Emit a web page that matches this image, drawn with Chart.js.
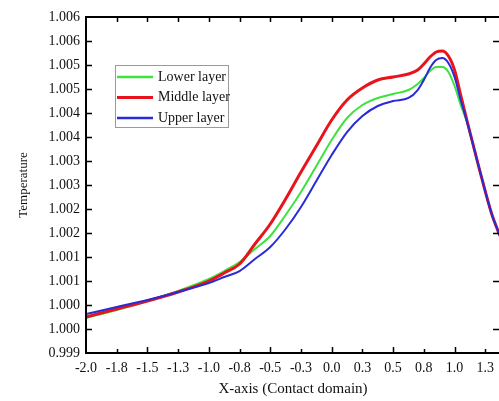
<!DOCTYPE html>
<html>
<head>
<meta charset="utf-8">
<script src="https://cdn.jsdelivr.net/npm/chart.js@4"></script>
<style>
  html, body { margin: 0; padding: 0; background: #fff; overflow: hidden; }
  #wrap { position: absolute; left: 0; top: 0; width: 520px; height: 401px; }
</style>
</head>
<body>
<div id="wrap"><canvas id="elGrafico" width="520" height="401"></canvas></div>
<script>
// posiciones en el eje X
const xValues = [-2.0, -1.75, -1.5, -1.25, -1.0, -0.875, -0.75, -0.625, -0.5, -0.375, -0.25, -0.125,
  0.0, 0.125, 0.25, 0.375, 0.5, 0.625, 0.7, 0.75, 0.8, 0.85, 0.9, 0.95, 1.0, 1.05, 1.1, 1.2, 1.3, 1.37]

const lowerLayer = [0.999729, 0.999896, 1.000083, 1.000292, 1.000542, 1.000708, 1.000896, 1.001167, 1.001438,
  1.001875, 1.002354, 1.002896, 1.003438, 1.003896, 1.004167, 1.004313, 1.004396, 1.004479, 1.004604,
  1.004729, 1.004875, 1.004958, 1.004958, 1.004854, 1.004563, 1.004167, 1.003813, 1.002854, 1.001917, 1.001438]

const middleLayer = [0.999750, 0.999917, 1.000083, 1.000271, 1.000500, 1.000667, 1.000854, 1.001271, 1.001688,
  1.002208, 1.002771, 1.003313, 1.003854, 1.004271, 1.004521, 1.004688, 1.004750, 1.004813, 1.004896,
  1.005021, 1.005167, 1.005271, 1.005292, 1.005188, 1.004896, 1.004375, 1.003854, 1.002854, 1.001917, 1.001438]

const upperLayer = [0.999813, 0.999958, 1.000104, 1.000271, 1.000458, 1.000583, 1.000708, 1.000958, 1.001208,
  1.001583, 1.002042, 1.002583, 1.003125, 1.003604, 1.003938, 1.004146, 1.004250, 1.004313, 1.004479,
  1.004688, 1.004938, 1.005104, 1.005146, 1.005042, 1.004750, 1.004271, 1.003833, 1.002854, 1.001917, 1.001438]

const seriesNames = ['Lower layer', 'Middle layer', 'Upper layer']
const seriesColors = ['#3ee23e', '#e8141b', '#2a2ad8']

// ticks del eje X (etiquetas con un decimal)
const xTicks = [-2.0, -1.75, -1.5, -1.25, -1.0, -0.75, -0.5, -0.25, 0.0, 0.25, 0.5, 0.75, 1.0, 1.25]
const xMin = -2.0
const xMax = 1.37
// eje Y cada 0.0005, etiquetas con tres decimales
const yMin = 0.999
const yMax = 1.006
const yStep = 0.0005

const serif = 'Liberation Serif, Times New Roman, serif'

const toPoints = (ys) => ys.map((y, i) => ({ x: xValues[i], y: y }))

// marco y ticks hacia adentro
const frameTicks = {
  id: 'frameTicks',
  afterDatasetsDraw(chart) {
    const { ctx, chartArea: a, scales } = chart
    const xs = scales.x
    const ys = scales.y
    ctx.save()
    ctx.strokeStyle = '#000'
    ctx.lineWidth = 2
    ctx.strokeRect(a.left, a.top, a.right - a.left, a.bottom - a.top)

    ctx.lineWidth = 1.5
    ctx.beginPath()
    xs.ticks.forEach((t) => {
      const px = Math.round(xs.getPixelForValue(t.value)) + 0.5
      if (px <= a.left + 2) return
      const major = Math.abs(Math.round(t.value * 2) - t.value * 2) < 1e-6
      const len = major ? 6 : 4
      ctx.moveTo(px, a.bottom)
      ctx.lineTo(px, a.bottom - len)
      ctx.moveTo(px, a.top)
      ctx.lineTo(px, a.top + 5)
    })
    ys.ticks.forEach((t, i) => {
      const py = Math.round(ys.getPixelForValue(t.value)) + 0.5
      if (py >= a.bottom - 2 || py <= a.top + 2) return
      ctx.moveTo(a.left, py)
      ctx.lineTo(a.left + 6, py)
      if (i % 2 === 1) {
        ctx.moveTo(a.right, py)
        ctx.lineTo(a.right - 7, py)
      }
    })
    ctx.stroke()
    ctx.restore()
  }
}

// leyenda dentro del area del grafico
const boxLegend = {
  id: 'boxLegend',
  afterDraw(chart) {
    const { ctx } = chart
    const bx = 115, by = 65, bw = 113, bh = 62
    ctx.save()
    ctx.fillStyle = '#fff'
    ctx.fillRect(bx, by, bw, bh)
    ctx.strokeStyle = '#9a9a9a'
    ctx.lineWidth = 1
    ctx.strokeRect(bx + 0.5, by + 0.5, bw, bh)
    ctx.font = '14px ' + serif
    ctx.textBaseline = 'middle'
    seriesNames.forEach((name, i) => {
      const ly = by + 12 + i * 20.5
      ctx.strokeStyle = seriesColors[i]
      ctx.lineWidth = i === 1 ? 3 : 2.5
      ctx.beginPath()
      ctx.moveTo(bx + 2, ly)
      ctx.lineTo(bx + 38, ly)
      ctx.stroke()
      ctx.fillStyle = '#111'
      ctx.fillText(name, bx + 43, ly)
    })
    ctx.restore()
  }
}

const datasets = [lowerLayer, middleLayer, upperLayer].map((ys, i) => ({
  label: seriesNames[i],
  data: toPoints(ys),
  borderColor: seriesColors[i],
  borderWidth: i === 1 ? 3 : 2,
  pointRadius: 0,
  cubicInterpolationMode: 'monotone',
  fill: false,
  order: [2, 1, 0][i]
}))

new Chart('elGrafico', {
  type: 'line',
  data: { datasets: datasets },
  options: {
    responsive: false,
    animation: false,
    layout: { padding: { left: 16, right: 20, top: 17, bottom: 0 } },
    plugins: {
      legend: { display: false },
      tooltip: { enabled: false }
    },
    scales: {
      x: {
        type: 'linear',
        min: xMin,
        max: xMax,
        grid: { display: false, drawTicks: false, tickLength: 0 },
        border: { display: false },
        ticks: {
          padding: 7,
          color: '#111',
          font: { family: serif, size: 14 },
          maxRotation: 0,
          autoSkip: false,
          callback: (v) => v.toFixed(1)
        },
        afterBuildTicks: (s) => {
          s.ticks = xTicks.map((v) => ({ value: v }))
        },
        afterFit: (s) => { s.height = 48 },
        title: {
          display: true,
          text: 'X-axis (Contact domain)',
          color: '#111',
          font: { family: serif, size: 15 },
          padding: { top: 0, bottom: 3 }
        }
      },
      y: {
        min: yMin,
        max: yMax,
        grid: { display: false, drawTicks: false, tickLength: 0 },
        border: { display: false },
        ticks: {
          stepSize: yStep,
          padding: 6,
          color: '#111',
          font: { family: serif, size: 14 },
          autoSkip: false,
          callback: (v) => (Math.round(v * 1000 + 1e-6) / 1000).toFixed(3)
        },
        afterFit: (s) => { s.width = 70 },
        title: {
          display: true,
          text: 'Temperature',
          color: '#111',
          font: { family: serif, size: 13 },
          padding: { top: 0, bottom: 0 }
        }
      }
    }
  },
  plugins: [frameTicks, boxLegend]
})
</script>
</body>
</html>
